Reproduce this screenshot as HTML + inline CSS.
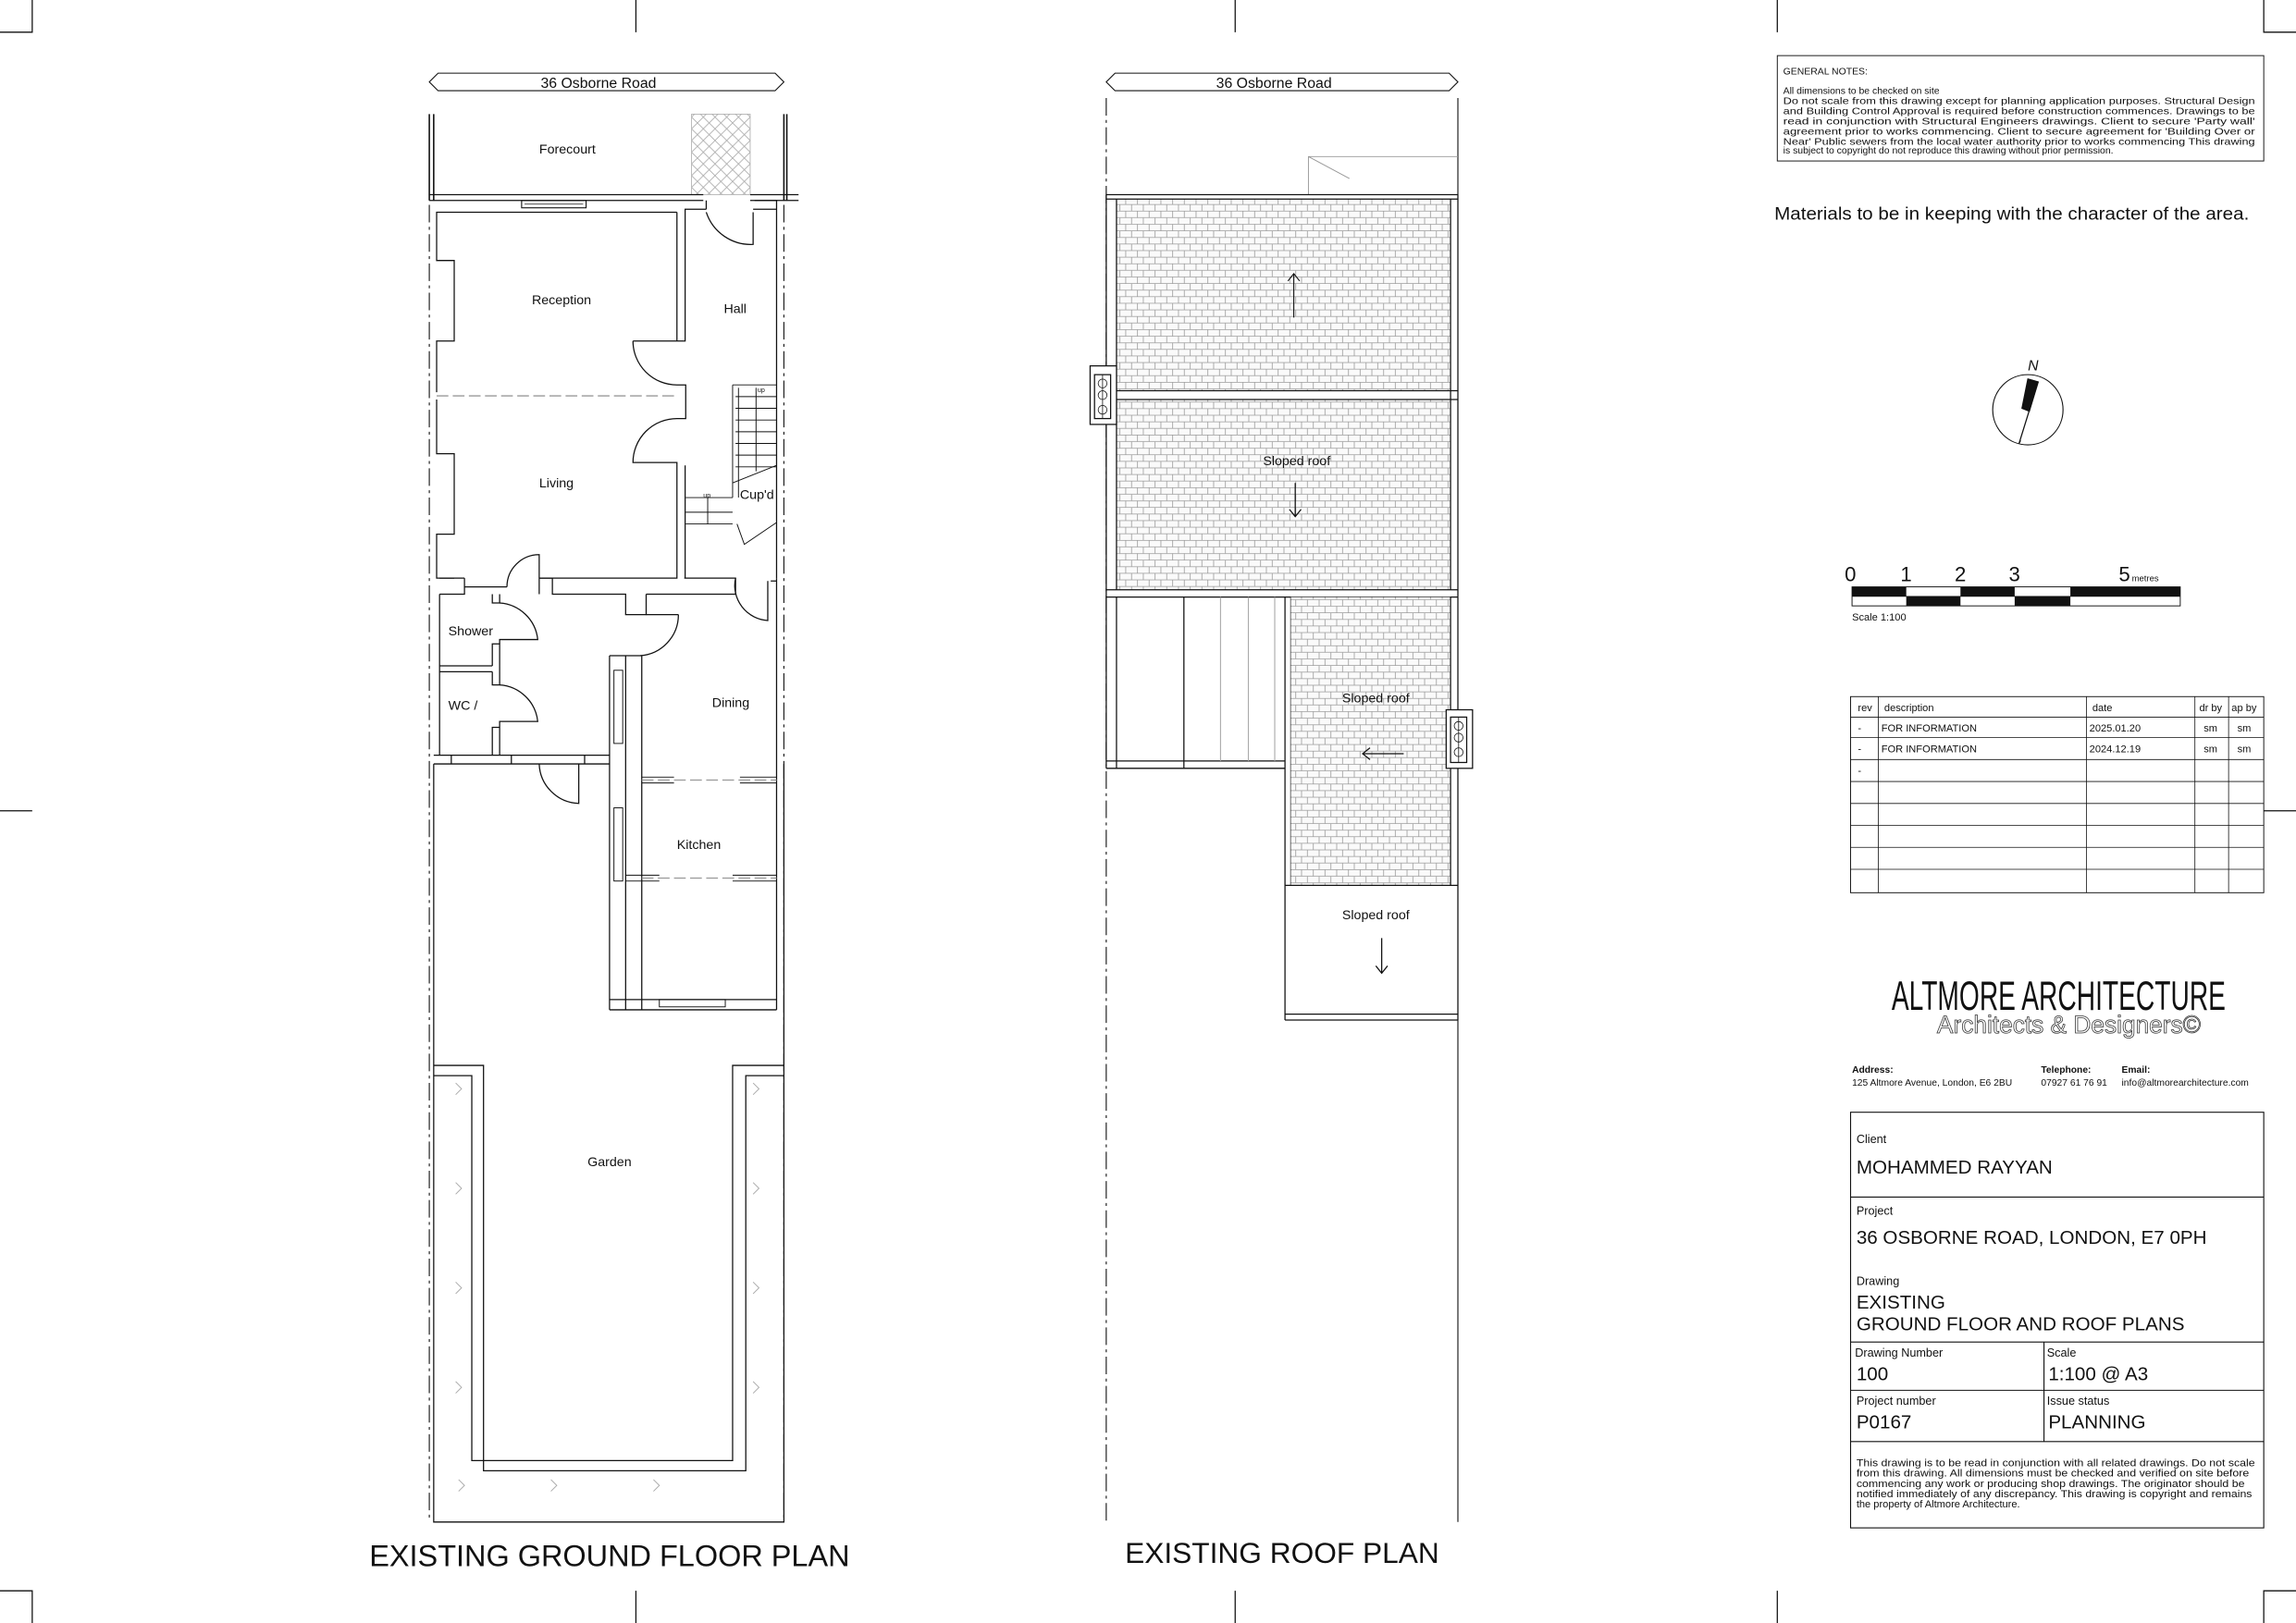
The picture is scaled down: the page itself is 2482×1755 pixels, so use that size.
<!DOCTYPE html>
<html><head><meta charset="utf-8">
<style>
html,body{margin:0;padding:0;background:#fff;}
svg{display:block;}
text{font-family:"Liberation Sans",sans-serif;fill:#111;stroke:none;}
</style></head><body>
<svg width="2482" height="1755" viewBox="0 0 1567 1109" preserveAspectRatio="none" xmlns="http://www.w3.org/2000/svg">
<defs>
<pattern id="brick" width="8" height="9" patternUnits="userSpaceOnUse">
<rect width="8" height="9" fill="#fafafa"/>
<path d="M0 0.25H8M0 4.75H8M0.3 0V4.5M4.3 4.5V9" stroke="#9a9a9a" stroke-width="0.5" fill="none"/>
</pattern>
<pattern id="lattice" width="8" height="8" patternUnits="userSpaceOnUse">
<path d="M0 0L8 8M8 0L0 8" stroke="#aaa" stroke-width="0.5"/>
</pattern>
</defs>
<g fill="none" stroke="#111" stroke-width="0.8">
<path d="M22 0V22H0M1545 0V22H1567M22 1109V1087H0M1545 1109V1087H1567"/>
<path d="M434 0V22M843 0V22M1213 0V22M434 1087V1109M843 1087V1109M1213 1087V1109M0 554H22M1545 554H1567"/>

<!-- ===== GROUND FLOOR ===== -->
<path d="M299 50H529L535 56L529 62H299L293 56Z" stroke-width="0.7"/>
<path d="M293 78V137M296 78V137M535 78V137M537 78V137" stroke-width="1"/>
<rect x="472" y="78" width="40" height="55" fill="url(#lattice)" stroke="#aaa" stroke-width="0.5"/>
<path d="M293 133H480M512 133H545M293 137H480M512 137H545" stroke-width="0.8"/>
<path d="M293 140V1040M535 140V1040" stroke-dasharray="12 3 2 3" stroke-width="0.7"/>
<rect x="356" y="137" width="44" height="5" stroke-width="0.7"/>
<path d="M358 139.5H398" stroke-width="0.5"/>
<path d="M462 145H298V178H310V233H298V268M298 273V310H310V365H298V395H310"/>
<path d="M462 145V233H468M467.6 145V233M432 233H462M432 233A30 30 0 0 0 462 263M462 263H468V286H462M462 286A30 30 0 0 0 432 316H462V318V395H368M467.6 318V395"/>
<path d="M298 270.5H462" stroke-dasharray="8 3" stroke="#999"/>
<path d="M467.6 145V143H482M514 143H530V395M515 137H530V145M530 145V395"/>
<path d="M482 143V137M482 145A32 32 0 0 0 514 167V145"/>
<text x="494" y="214" font-size="9">Hall</text>
<path d="M500 263H530M502 271H530M502 279H530M502 287H530M502 295H530M502 303H530M502 311H530M502 319H530M500 263V340M504 265V340M516 265V322" stroke-width="0.6"/>
<path d="M500 330L530 318" stroke-width="0.6"/>
<text x="517" y="268" font-size="4.5">up</text>
<path d="M468 340H500M468 350H500M468 358H500M483 340V358" stroke-width="0.6"/>
<text x="480" y="340" font-size="4.5">up</text>
<path d="M503 358L508 372L530 357" stroke-width="0.6"/>
<text x="505" y="341" font-size="9">Cup'd</text>
<path d="M467 395H502V406H441M441 406V420H427V406H377V395H368M368 395V406M317 395V406H300M300 395H317"/>
<path d="M502 395A24 24 0 0 0 524 424V397M526 397H530"/>
<path d="M346 401H317M346 401A22 22 0 0 1 368 379V395"/>
<path d="M441 420H463M463 420A28 28 0 0 1 437 448"/>
<path d="M300 406V516M300 455H336M300 459H336M336 406V412H341V406M336 455V440H341V459V468H336V459"/>
<path d="M341 412A28 28 0 0 1 367 437H341V440M341 468A28 28 0 0 1 367 493H341V497H336V516M341 497V516"/>
<text x="306" y="434" font-size="9">Shower</text>
<text x="306" y="485" font-size="9">WC /</text>
<path d="M296 516H416M296 522H416M308 516V522H327M349 516V522H368M399 516V522H416"/>
<path d="M368 522A28 28 0 0 0 395 549V522"/>
<path d="M427 448V690M416 448H438V690M416 448V690M530 395V690"/>
<rect x="419" y="458" width="6" height="50" stroke-width="0.6"/>
<rect x="419" y="552" width="6" height="50" stroke-width="0.6"/>
<path d="M438 533H530M438 600H530" stroke-dasharray="8 3" stroke="#999"/>
<path d="M438 531H460M505 531H530M438 535H460M505 535H530M427 602H450M500 602H530M427 598H450M500 598H530" stroke-width="0.6"/>
<path d="M416 683H530M416 690H530"/>
<rect x="450" y="683" width="45" height="5" stroke-width="0.6"/>
<text x="486" y="483" font-size="9">Dining</text>
<text x="462" y="580" font-size="9">Kitchen</text>
<path d="M296 522V1040H535V522M296 1040H535"/>
<path d="M296 728H330V1005H509V735H535M296 735H322V998H500V728H535"/>
<g stroke="#aaa" stroke-width="0.6"><path d="M311 740L315 744L311 748M311 808L315 812L311 816M311 876L315 880L311 884M311 944L315 948L311 952M376 1011L380 1015L376 1019M446 1011L450 1015L446 1019M313 1011L317 1015L313 1019M514 740L518 744L514 748M514 808L518 812L514 816M514 876L518 880L514 884M514 944L518 948L514 952"/></g>
<text x="368" y="105" font-size="9">Forecourt</text>
<text x="363" y="208" font-size="9">Reception</text>
<text x="368" y="333" font-size="9">Living</text>
<text x="401" y="797" font-size="9">Garden</text>
<text x="369" y="60" font-size="10">36 Osborne Road</text>
<text x="416" y="1070" font-size="20.5" text-anchor="middle">EXISTING GROUND FLOOR PLAN</text>

<!-- ===== ROOF ===== -->
<path d="M761 50H989L995 56L989 62H761L755 56Z" stroke-width="0.7"/>
<text x="830" y="60" font-size="10">36 Osborne Road</text>
<path d="M755 67V1040" stroke-dasharray="12 3 2 3" stroke-width="0.7"/>
<path d="M995 67V133M995 697V1040" stroke-width="0.7"/>
<path d="M893 133V107H995M893 107L921 122" stroke="#999" stroke-width="0.6"/>
<rect x="762" y="136" width="228" height="131" fill="url(#brick)" stroke="none"/>
<rect x="762" y="273" width="228" height="130" fill="url(#brick)" stroke="none"/>
<path d="M755 133H995M755 136H995M755 133V408M762 136V403M990 136V403M995 133V408M755 267H995M755 273H995M755 403H995M755 408H995"/>
<rect x="744" y="250" width="18" height="40" fill="#fff"/>
<rect x="747" y="256" width="11" height="30"/>
<circle cx="752.5" cy="262" r="3" stroke-width="0.5"/><circle cx="752.5" cy="270" r="3" stroke-width="0.5"/><circle cx="752.5" cy="280" r="3" stroke-width="0.5"/>
<path d="M752.5 256V286" stroke-width="0.5"/>
<path d="M883 217V187M879 192L883 187L887 192" stroke-width="0.7"/>
<path d="M884 330V353M880 348L884 353L888 348" stroke-width="0.8"/>
<text x="862" y="318" font-size="9">Sloped roof</text>
<path d="M755 408V525M762 408V525M808 408V525M877 408V697M881 408V605M755 520H877M755 525H877"/>
<path d="M833 408V520M852 408V520M870 408V520" stroke="#aaa" stroke-width="0.7"/>
<rect x="881" y="408" width="109" height="197" fill="url(#brick)" stroke="none"/>
<path d="M990 408V605M995 408V697M877 605H995M877 693H995M877 697H995"/>
<rect x="987" y="485" width="18" height="40" fill="#fff"/>
<rect x="990" y="490" width="11" height="31"/>
<circle cx="995.5" cy="496" r="3" stroke-width="0.5"/><circle cx="995.5" cy="504" r="3" stroke-width="0.5"/><circle cx="995.5" cy="514" r="3" stroke-width="0.5"/>
<path d="M995.5 490V521" stroke-width="0.5"/>
<text x="916" y="480" font-size="9">Sloped roof</text>
<path d="M958 515H930M935 511L930 515L935 519" stroke-width="0.8"/>
<text x="916" y="628" font-size="9">Sloped roof</text>
<path d="M943 641V665M939 660L943 665L947 660" stroke-width="0.8"/>
<text x="875" y="1068" font-size="20" text-anchor="middle">EXISTING ROOF PLAN</text>

<!-- ===== RIGHT PANEL ===== -->
<rect x="1213" y="38" width="332" height="72" stroke-width="0.6"/>
<g font-size="6.6">
<text x="1217" y="51">GENERAL NOTES:</text>
<text x="1217" y="64">All dimensions to be checked on site</text>
<text x="1217" y="71" textLength="322" lengthAdjust="spacingAndGlyphs">Do not scale from this drawing except for planning application purposes. Structural Design</text>
<text x="1217" y="78" textLength="322" lengthAdjust="spacingAndGlyphs">and Building Control Approval is required before construction commences. Drawings to be</text>
<text x="1217" y="85" textLength="322" lengthAdjust="spacingAndGlyphs">read in conjunction with Structural Engineers drawings. Client to secure 'Party wall'</text>
<text x="1217" y="92" textLength="322" lengthAdjust="spacingAndGlyphs">agreement prior to works commencing. Client to secure agreement for 'Building Over or</text>
<text x="1217" y="99" textLength="322" lengthAdjust="spacingAndGlyphs">Near' Public sewers from the local water authority prior to works commencing This drawing</text>
<text x="1217" y="105">is subject to copyright do not reproduce this drawing without prior permission.</text>
</g>
<text x="1211" y="150" font-size="12" textLength="324" lengthAdjust="spacingAndGlyphs">Materials to be in keeping with the character of the area.</text>
<circle cx="1384" cy="280" r="24" stroke-width="0.7"/>
<path d="M1384 259L1391 261L1378 303L1379 301" stroke-width="0.8"/>
<path d="M1384 259L1391 261L1385 281L1380 279Z" fill="#111"/>
<text x="1384" y="253" font-size="10" font-style="italic">N</text>
<g font-size="14">
<text x="1259" y="397">0</text><text x="1297" y="397">1</text><text x="1334" y="397">2</text><text x="1371" y="397">3</text><text x="1446" y="397">5</text>
</g>
<text x="1455" y="397" font-size="6">metres</text>
<rect x="1264" y="401" width="224" height="13" stroke-width="0.6"/>
<path d="M1264 407.5H1488" stroke-width="0.5"/>
<g fill="#111" stroke="none">
<rect x="1264" y="401" width="37" height="6.5"/><rect x="1338" y="401" width="37" height="6.5"/><rect x="1413" y="401" width="75" height="6.5"/>
<rect x="1301" y="407.5" width="37" height="6.5"/><rect x="1375" y="407.5" width="38" height="6.5"/>
</g>
<text x="1264" y="424" font-size="7">Scale 1:100</text>
<rect x="1263" y="476" width="282" height="134" stroke-width="0.6"/>
<path d="M1263 490H1545M1263 504H1545M1263 519H1545M1263 534H1545M1263 549H1545M1263 564H1545M1263 579H1545M1263 594H1545M1282 476V610M1424 476V610M1498 476V610M1521 476V610" stroke-width="0.5"/>
<g font-size="7">
<text x="1268" y="486">rev</text><text x="1286" y="486">description</text><text x="1428" y="486">date</text><text x="1501" y="486">dr by</text><text x="1523" y="486">ap by</text>
<text x="1268" y="500">-</text><text x="1284" y="500">FOR INFORMATION</text><text x="1426" y="500">2025.01.20</text><text x="1504" y="500">sm</text><text x="1527" y="500">sm</text>
<text x="1268" y="514">-</text><text x="1284" y="514">FOR INFORMATION</text><text x="1426" y="514">2024.12.19</text><text x="1504" y="514">sm</text><text x="1527" y="514">sm</text>
<text x="1268" y="529">-</text>
</g>
<text x="1405" y="690" font-size="28" text-anchor="middle" textLength="228" lengthAdjust="spacingAndGlyphs" style="font-weight:normal">ALTMORE ARCHITECTURE</text>
<text x="1412" y="706" font-size="17" text-anchor="middle" textLength="180" lengthAdjust="spacingAndGlyphs" style="fill:#fff;stroke:#333;stroke-width:0.5">Architects &amp; Designers©</text>
<g font-size="6.5">
<text x="1264" y="733" font-weight="bold">Address:</text><text x="1264" y="742">125 Altmore Avenue, London, E6 2BU</text>
<text x="1393" y="733" font-weight="bold">Telephone:</text><text x="1393" y="742">07927 61 76 91</text>
<text x="1448" y="733" font-weight="bold">Email:</text><text x="1448" y="742">info@altmorearchitecture.com</text>
</g>
<rect x="1263" y="760" width="282" height="284" stroke-width="0.7"/>
<path d="M1263 818H1545M1263 917H1545M1263 950H1545M1263 985H1545M1395 917V985" stroke-width="0.7"/>
<text x="1267" y="781" font-size="8">Client</text>
<text x="1267" y="802" font-size="13">MOHAMMED RAYYAN</text>
<text x="1267" y="830" font-size="8">Project</text>
<text x="1267" y="850" font-size="13">36 OSBORNE ROAD, LONDON, E7 0PH</text>
<text x="1267" y="878" font-size="8">Drawing</text>
<text x="1267" y="894" font-size="13">EXISTING</text>
<text x="1267" y="909" font-size="13">GROUND FLOOR AND ROOF PLANS</text>
<text x="1266" y="927" font-size="8">Drawing Number</text>
<text x="1267" y="943" font-size="13">100</text>
<text x="1397" y="927" font-size="8">Scale</text>
<text x="1398" y="943" font-size="13">1:100 @ A3</text>
<text x="1267" y="960" font-size="8">Project number</text>
<text x="1267" y="976" font-size="13">P0167</text>
<text x="1397" y="960" font-size="8">Issue status</text>
<text x="1398" y="976" font-size="13">PLANNING</text>
<g font-size="7">
<text x="1267" y="1002" textLength="272" lengthAdjust="spacingAndGlyphs">This drawing is to be read in conjunction with all related drawings. Do not scale</text>
<text x="1267" y="1009" textLength="268" lengthAdjust="spacingAndGlyphs">from this drawing. All dimensions must be checked and verified on site before</text>
<text x="1267" y="1016" textLength="265" lengthAdjust="spacingAndGlyphs">commencing any work or producing shop drawings. The originator should be</text>
<text x="1267" y="1023" textLength="270" lengthAdjust="spacingAndGlyphs">notified immediately of any discrepancy. This drawing is copyright and remains</text>
<text x="1267" y="1030">the property of Altmore Architecture.</text>
</g>
</g>
</svg>
</body></html>
